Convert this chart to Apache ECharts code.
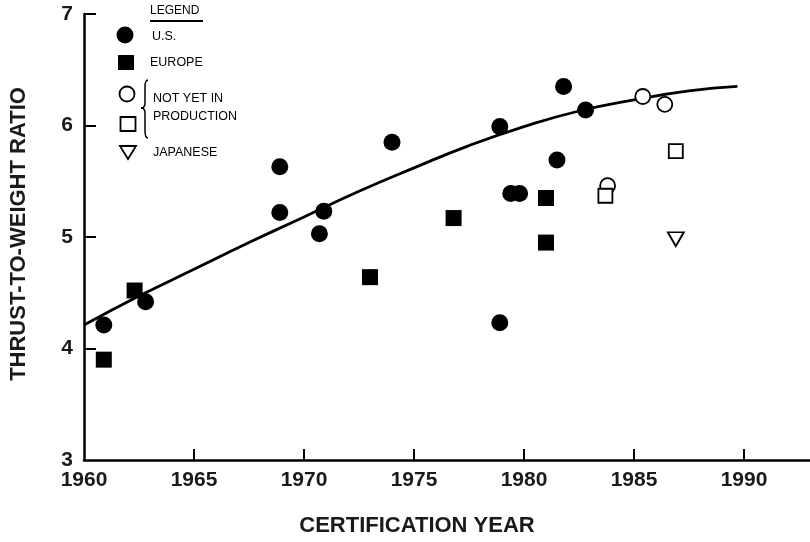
<!DOCTYPE html>
<html>
<head>
<meta charset="utf-8">
<script src="https://cdn.jsdelivr.net/npm/echarts@6/dist/echarts.min.js"></script>
<style>html,body{margin:0;padding:0;background:#fff;}#c{width:810px;height:542px;}</style>
</head>
<body>
<div id="c"></div>
<script>
// ---- data ----
const usPoints = [
  [1960.9, 4.21], [1962.8, 4.42], [1968.9, 5.63], [1968.9, 5.22], [1970.7, 5.03],
  [1970.9, 5.23], [1974.0, 5.85], [1978.9, 5.99], [1978.9, 4.23], [1979.4, 5.39],
  [1979.8, 5.39], [1981.5, 5.69], [1981.8, 6.35], [1982.8, 6.14]
];
const europePoints = [
  [1960.9, 3.90], [1962.3, 4.52], [1973.0, 4.64], [1976.8, 5.17], [1981.0, 5.35], [1981.0, 4.95]
];
const nyipCircles = [[1985.4, 6.26], [1986.4, 6.19], [1983.8, 5.46]];
const nyipSquares = [[1986.9, 5.77], [1983.7, 5.37]];
const japanesePoints = [[1986.9, 4.98]];
const trendLine = [
  [1960, 4.21], [1962.5, 4.47], [1965, 4.71], [1967.5, 4.95], [1970, 5.18], [1972.5, 5.41],
  [1975, 5.62], [1977.5, 5.82], [1980, 5.99], [1982.5, 6.13], [1985, 6.23], [1987.5, 6.31], [1989.7, 6.35]
];
const xLabelValues = [1960, 1965, 1970, 1975, 1980, 1985, 1990];
const xTickValues = [1965, 1970, 1975, 1980, 1985, 1990];
const yLabelValues = [3, 4, 5, 6, 7];
const yTickValues = [4, 5, 6, 7];
const legendLabels = ['U.S.', 'EUROPE', 'NOT YET IN', 'PRODUCTION', 'JAPANESE'];

const FONT = 'Liberation Sans';
const INK = '#000';

const chart = echarts.init(document.getElementById('c'), null, {renderer: 'canvas'});

const lg = {fontFamily: FONT, fontSize: 12.5, fill: INK};
const option = {
  backgroundColor: '#fff',
  animation: false,
  grid: {left: 79, right: 0, top: 14, bottom: 80},
  xAxis: {
    type: 'value', min: 1960, max: 1993, interval: 5,
    name: 'CERTIFICATION YEAR', nameLocation: 'middle', nameGap: 55,
    nameTextStyle: {fontFamily: FONT, fontSize: 22, fontWeight: 'bold', color: '#1a1a1a', padding: [0, 60, 0, 0]},
    axisLine: {show: true, lineStyle: {color: INK, width: 2.5}},
    axisTick: {show: true, inside: true, length: 11, lineStyle: {color: INK, width: 2}, customValues: xTickValues},
    axisLabel: {fontFamily: FONT, fontSize: 21, fontWeight: 'bold', color: '#1a1a1a', margin: 10,
      customValues: xLabelValues, formatter: function (v) { return String(v); }},
    splitLine: {show: false}
  },
  yAxis: {
    type: 'value', min: 3, max: 7, interval: 1,
    name: 'THRUST-TO-WEIGHT RATIO', nameLocation: 'middle', nameGap: 54, nameRotate: 90,
    nameTextStyle: {fontFamily: FONT, fontSize: 22, fontWeight: 'bold', color: '#1a1a1a', padding: [0, 0, 0, 6]},
    axisLine: {show: true, lineStyle: {color: INK, width: 2.5}},
    axisTick: {show: true, inside: true, length: 12, lineStyle: {color: INK, width: 2}, customValues: yTickValues},
    axisLabel: {fontFamily: FONT, fontSize: 21, fontWeight: 'bold', color: '#1a1a1a', margin: 11, customValues: yLabelValues},
    splitLine: {show: false}
  },
  series: [
    {type: 'line', name: 'trend', data: trendLine, smooth: true, showSymbol: false, symbol: 'none',
     lineStyle: {color: INK, width: 2.8}, z: 1},
    {type: 'scatter', name: 'U.S.', data: usPoints, symbol: 'circle', symbolSize: 17,
     itemStyle: {color: INK, opacity: 1}, z: 3},
    {type: 'scatter', name: 'EUROPE', data: europePoints, symbol: 'rect', symbolSize: 16,
     itemStyle: {color: INK, opacity: 1}, z: 3},
    {type: 'scatter', name: 'NYIP circle', data: nyipCircles, symbol: 'circle', symbolSize: 15,
     itemStyle: {color: '#fff', borderColor: INK, borderWidth: 1.8, opacity: 1}, z: 4},
    {type: 'scatter', name: 'NYIP square', data: nyipSquares, symbol: 'rect', symbolSize: 14,
     itemStyle: {color: '#fff', borderColor: INK, borderWidth: 1.8, opacity: 1}, z: 4},
    {type: 'scatter', name: 'JAPANESE', data: japanesePoints, symbol: 'triangle', symbolRotate: 180, symbolSize: [16, 14],
     itemStyle: {color: '#fff', borderColor: INK, borderWidth: 1.8, opacity: 1}, z: 4}
  ],
  graphic: [
    {type: 'text', left: 150, top: 5, style: Object.assign({text: 'LEGEND'}, lg, {fontSize: 12})},
    {type: 'line', shape: {x1: 150, y1: 21, x2: 203, y2: 21}, style: {stroke: INK, lineWidth: 2}},
    {type: 'circle', shape: {cx: 125, cy: 35, r: 8.5}, style: {fill: INK}},
    {type: 'rect', shape: {x: 118, y: 55, width: 16, height: 15}, style: {fill: INK}},
    {type: 'circle', shape: {cx: 127, cy: 94, r: 7.5}, style: {fill: '#fff', stroke: INK, lineWidth: 1.8}},
    {type: 'rect', shape: {x: 120.5, y: 117, width: 15, height: 14}, style: {fill: '#fff', stroke: INK, lineWidth: 1.8}},
    {type: 'polygon', shape: {points: [[120, 146], [136, 146], [128, 159]]}, style: {fill: '#fff', stroke: INK, lineWidth: 1.8}},
    {type: 'bezierCurve', shape: {x1: 148, y1: 80, x2: 145, y2: 87, cpx1: 145, cpy1: 80}, style: {stroke: INK, lineWidth: 1.5, fill: null}},
    {type: 'line', shape: {x1: 145, y1: 87, x2: 145, y2: 103}, style: {stroke: INK, lineWidth: 1.5}},
    {type: 'bezierCurve', shape: {x1: 145, y1: 103, x2: 141, y2: 108, cpx1: 145, cpy1: 108}, style: {stroke: INK, lineWidth: 1.5, fill: null}},
    {type: 'bezierCurve', shape: {x1: 141, y1: 108, x2: 145, y2: 113, cpx1: 145, cpy1: 108}, style: {stroke: INK, lineWidth: 1.5, fill: null}},
    {type: 'line', shape: {x1: 145, y1: 113, x2: 145, y2: 131}, style: {stroke: INK, lineWidth: 1.5}},
    {type: 'bezierCurve', shape: {x1: 145, y1: 131, x2: 148, y2: 138, cpx1: 145, cpy1: 138}, style: {stroke: INK, lineWidth: 1.5, fill: null}},
    {type: 'text', left: 152, top: 30, style: Object.assign({text: legendLabels[0]}, lg)},
    {type: 'text', left: 150, top: 56, style: Object.assign({text: legendLabels[1]}, lg)},
    {type: 'text', left: 153, top: 92, style: Object.assign({text: legendLabels[2]}, lg)},
    {type: 'text', left: 153, top: 110, style: Object.assign({text: legendLabels[3]}, lg)},
    {type: 'text', left: 153, top: 146, style: Object.assign({text: legendLabels[4]}, lg)}
  ]
};
chart.setOption(option);
</script>
</body>
</html>
